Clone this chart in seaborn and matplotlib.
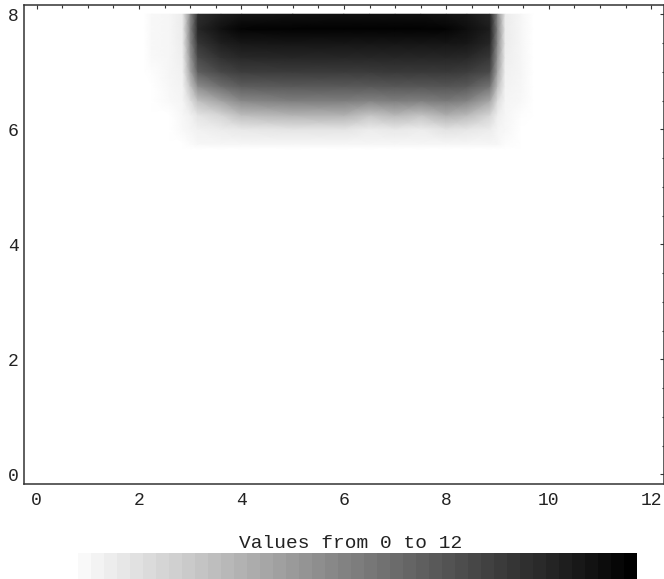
import numpy as np
import pandas as pd
import matplotlib
matplotlib.use("Agg")
import matplotlib.pyplot as plt
import seaborn as sns
from matplotlib.colors import ListedColormap, Normalize
from matplotlib.cm import ScalarMappable
from matplotlib.ticker import MultipleLocator

# ---- data ----
x_vals = [0, 2.1, 2.25, 2.6, 2.85, 3.0, 3.15, 3.6, 4.0, 5.0, 6.0, 6.5, 7.0, 7.5,
          8.0, 8.4, 8.85, 9.0, 9.15, 9.45, 9.7, 12.0]
y_vals = [0.0, 5.65, 5.75, 6.0, 6.25, 6.5, 6.75, 7.0, 7.25, 7.5, 7.75, 8.0]

row_y0_00 = [0, 0, 0, 0, 0, 0, 0, 0, 0, 0, 0, 0, 0, 0, 0, 0, 0, 0, 0, 0, 0, 0]
row_y5_65 = [0, 0, 0, 0, 0, 0, 0, 0, 0, 0, 0, 0, 0, 0, 0, 0, 0, 0, 0, 0, 0, 0]
row_y5_75 = [0, 0, 0, 0, 0, 0.2, 0.4, 0.45, 0.45, 0.45, 0.45, 0.45, 0.45, 0.45, 0.45, 0.45, 0.45, 0.4, 0.15, 0, 0, 0]
row_y6_00 = [0, 0, 0, 0, 0.3, 0.5, 0.7, 0.9, 1.1, 1.3, 1.3, 0.9, 1.1, 0.9, 1.4, 1.2, 0.9, 0.5, 0.4, 0, 0, 0]
row_y6_25 = [0, 0, 0, 0, 0.4, 0.7, 1.3, 2.0, 3.1, 3.6, 3.7, 2.8, 3.4, 2.9, 3.8, 3.3, 2.0, 0.8, 0.45, 0.1, 0, 0]
row_y6_50 = [0, 0, 0, 0.3, 0.5, 1.5, 3.0, 4.4, 5.6, 6.1, 6.1, 5.9, 6.1, 6.0, 6.3, 5.9, 4.2, 1.6, 0.5, 0.35, 0, 0]
row_y6_75 = [0, 0, 0, 0.4, 0.6, 2.8, 5.4, 6.8, 7.6, 7.8, 7.8, 7.8, 7.9, 7.9, 8.0, 7.8, 6.6, 3.0, 0.6, 0.4, 0, 0]
row_y7_00 = [0, 0, 0.1, 0.45, 0.7, 4.2, 7.5, 8.6, 9.1, 9.2, 9.2, 9.2, 9.3, 9.3, 9.3, 9.1, 8.5, 4.2, 0.7, 0.45, 0, 0]
row_y7_25 = [0, 0, 0.3, 0.45, 0.8, 4.9, 8.6, 9.7, 10.1, 10.2, 10.2, 10.2, 10.2, 10.2, 10.2, 10.1, 9.4, 4.9, 0.8, 0.45, 0, 0]
row_y7_50 = [0, 0, 0.35, 0.45, 0.9, 5.5, 9.5, 10.5, 10.9, 11.0, 11.0, 11.0, 11.0, 11.0, 11.0, 10.9, 10.2, 5.5, 0.9, 0.45, 0, 0]
row_y7_75 = [0, 0, 0.35, 0.45, 0.9, 5.8, 10.2, 11.2, 11.8, 11.9, 11.9, 11.9, 11.9, 11.9, 11.8, 11.3, 10.6, 5.8, 0.9, 0.45, 0, 0]
row_y8_00 = [0, 0, 0.35, 0.45, 0.9, 5.5, 9.8, 10.6, 11.0, 11.2, 11.3, 11.3, 11.3, 11.3, 11.1, 10.9, 10.2, 5.5, 0.9, 0.45, 0, 0]

x_ticks = [0, 2, 4, 6, 8, 10, 12]
y_ticks = [0, 2, 4, 6, 8]
value_min, value_max = 0, 12
legend_title = "Values from 0 to 12"

rows = [row_y0_00, row_y5_65, row_y5_75, row_y6_00, row_y6_25, row_y6_50,
        row_y6_75, row_y7_00, row_y7_25, row_y7_50, row_y7_75, row_y8_00]
grid = pd.DataFrame(rows, index=y_vals, columns=x_vals)

# ---- style ----
sns.set_theme(style="white")
plt.rcParams["font.family"] = ["Liberation Mono", "DejaVu Sans"]

n_bands = 44
band_colors = [(g, g, g) for g in np.linspace(1.0, 0.0, n_bands)]
band_cmap = ListedColormap(band_colors)
smooth_cmap = plt.get_cmap("gray_r")
norm = Normalize(vmin=value_min, vmax=value_max)

fig = plt.figure(figsize=(6.64, 5.79), dpi=100)
ax = fig.add_axes([0.0366, 0.1649, 0.9627, 0.8264])

X, Y = np.meshgrid(grid.columns.values.astype(float), grid.index.values.astype(float))
ax.pcolormesh(X, Y, grid.values, shading="gouraud", cmap=smooth_cmap, norm=norm)

ax.set_xlim(-0.24, 12.24)
ax.set_ylim(-0.16, 8.16)
ax.set_xticks(x_ticks)
ax.set_yticks(y_ticks)
ax.xaxis.set_minor_locator(MultipleLocator(0.5))
ax.yaxis.set_minor_locator(MultipleLocator(0.5))
ax.tick_params(which="both", direction="in", top=True, right=True,
               labeltop=False, labelright=False, color="#333333", width=0.8)
ax.tick_params(which="major", length=3.2)
ax.tick_params(which="minor", length=1.8)
ax.tick_params(axis="x", which="major", pad=6, labelsize=13, labelcolor="#222222")
ax.tick_params(axis="y", which="major", pad=4, labelsize=13, labelcolor="#222222")
for sp in ax.spines.values():
    sp.set_color("#333333")
    sp.set_linewidth(1.1)
ax.set_facecolor("white")

cax = fig.add_axes([65 / 664, 0.0, (637 - 65) / 664, 26 / 579])
cb = fig.colorbar(ScalarMappable(norm=norm, cmap=band_cmap), cax=cax,
                  orientation="horizontal")
cb.outline.set_visible(False)
cax.set_xticks([])
cax.set_yticks([])

fig.text(351 / 664, 1 - 543.5 / 579, legend_title, ha="center", va="center",
         fontsize=14, color="#222222")

fig.savefig("out.png", dpi=100, facecolor="white")
